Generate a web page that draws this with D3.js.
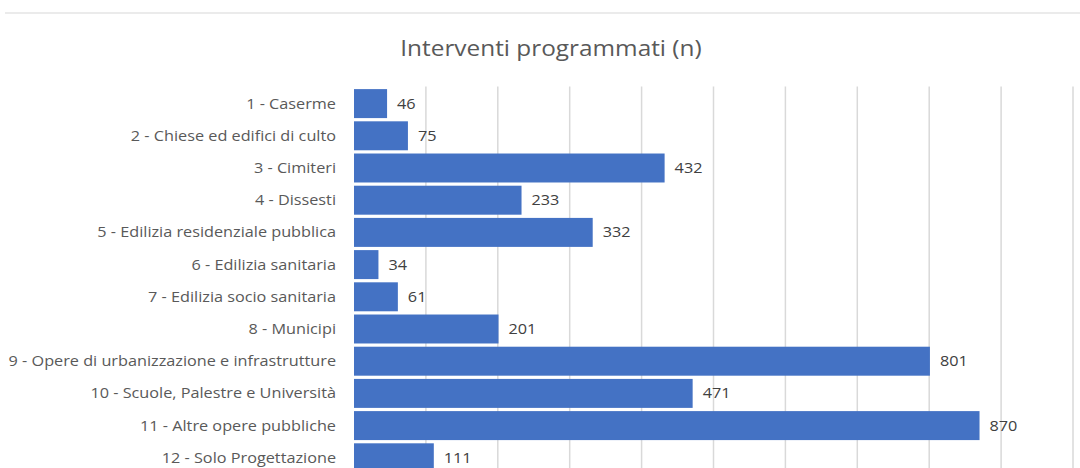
<!DOCTYPE html>
<html>
<head>
<meta charset="utf-8">
<script src="https://cdn.jsdelivr.net/npm/d3@7"></script>
<style>
body{margin:0;background:#fff;overflow:hidden}
text{font-family:'Open Sans',sans-serif}
</style>
</head>
<body>
<div id="chart"></div>
<script>
var categories = ['1 - Caserme','2 - Chiese ed edifici di culto','3 - Cimiteri','4 - Dissesti',
  '5 - Edilizia residenziale pubblica','6 - Edilizia sanitaria','7 - Edilizia socio sanitaria',
  '8 - Municipi','9 - Opere di urbanizzazione e infrastrutture','10 - Scuole, Palestre e Università',
  '11 - Altre opere pubbliche','12 - Solo Progettazione']
var values = [46,75,432,233,332,34,61,201,801,471,870,111]
var ticks = [0,100,200,300,400,500,600,700,800,900,1000]

var svg = d3.select('#chart').append('svg')
.attr('width',1080)
.attr('height',468)

var marginL = 354
var marginU = 87.5
var width = 719
var step = 32.2
var height = step*categories.length
var stretch = 1.16

// the source picture has slightly wide (stretched) text
function widen(sel){
    sel.each(function(){
        var w = this.getComputedTextLength()
        d3.select(this).attr('textLength',w*stretch).attr('lengthAdjust','spacingAndGlyphs')
    })
}

// chart border line at top
svg.append('line')
.attr('x1',5).attr('x2',1080).attr('y1',13).attr('y2',13)
.attr('stroke','#e4e4e4').attr('stroke-width',1.5)

svg.append('text')
.attr('x',551).attr('y',56)
.attr('text-anchor','middle')
.attr('fill','#595959')
.style('font-size','21px')
.text('Interventi programmati (n)')
.call(widen)

var g = svg.append('g').attr('transform','translate('+marginL+','+marginU+')')

var xscale = d3.scaleLinear().domain([0,1000]).range([0,width])
var yscale = d3.scaleBand().domain(categories).range([0,height]).paddingInner(0.1).paddingOuter(0.05)

// vertical gridlines
g.selectAll('.grid').data(ticks.slice(1)).enter()
.append('line')
.attr('x1',function(d){return xscale(d)})
.attr('x2',function(d){return xscale(d)})
.attr('y1',-1).attr('y2',height+20)
.attr('stroke','#d9d9d9').attr('stroke-width',1.5)

var yaxis = g.append('g').call(d3.axisLeft(yscale).tickSize(0).tickPadding(18))
yaxis.select('.domain').remove()
yaxis.selectAll('text').attr('fill','#595959').style('font-size','14px').attr('dy','0.35em').call(widen)

g.selectAll('.bar').data(values).enter()
.append('rect')
.attr('x',0)
.attr('y',function(d,i){return yscale(categories[i])})
.attr('width',function(d){return xscale(d)})
.attr('height',yscale.bandwidth())
.attr('fill','#4472C4')

g.selectAll('.lbl').data(values).enter()
.append('text')
.attr('x',function(d){return xscale(d)+10})
.attr('y',function(d,i){return yscale(categories[i])+yscale.bandwidth()/2+5})
.attr('fill','#404040')
.style('font-size','14px')
.text(function(d){return d})
.call(widen)
</script>
</body>
</html>
